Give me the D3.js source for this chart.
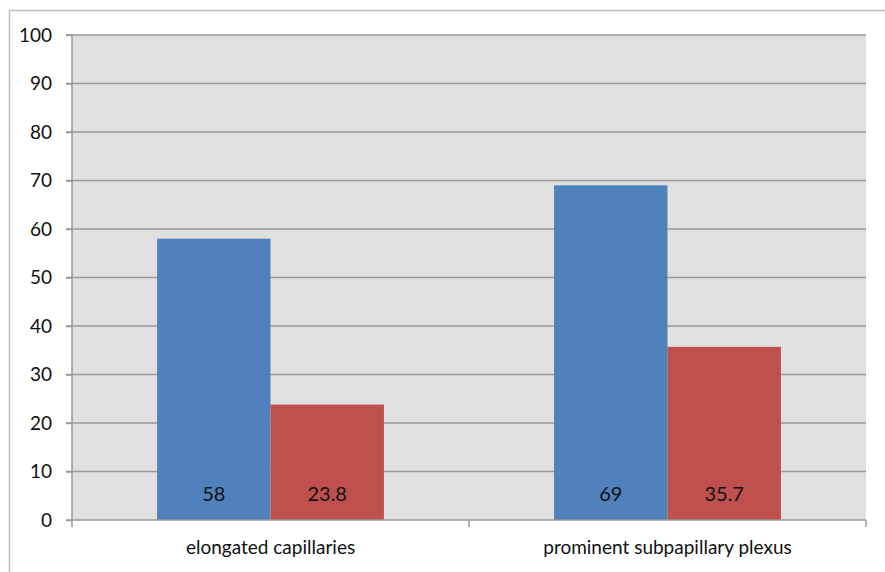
<!DOCTYPE html>
<html>
<head>
<meta charset="utf-8">
<script src="https://cdn.jsdelivr.net/npm/d3@7"></script>
<style>
  html, body { margin: 0; padding: 0; background: #fff; }
  svg { display: block; font-family: Lato, "Open Sans", sans-serif; }
</style>
</head>
<body>
<svg id="chart" width="885" height="572"></svg>
<script>
const categories = ["elongated capillaries", "prominent subpapillary plexus"];
const seriesNames = ["series1", "series2"];
const series1 = [58, 69];
const series2 = [23.8, 35.7];
const yTicks = [0, 10, 20, 30, 40, 50, 60, 70, 80, 90, 100];
const colors = ["#4f81bd", "#c0504d"];

const svg = d3.select("#chart");
const plotLeft = 72, plotRight = 866, plotTop = 35, plotBottom = 520;

// outer frame
svg.append("path")
  .attr("d", "M9.5,572V10.5H885")
  .attr("fill", "none")
  .attr("stroke", "#bdbdbd")
  .attr("stroke-width", 1.5);

const x = d3.scaleBand().domain(categories).range([plotLeft, plotRight]).paddingInner(0).paddingOuter(0);
const y = d3.scaleLinear().domain([0, 100]).range([plotBottom, plotTop]);
const xs = d3.scaleBand().domain(seriesNames).range([0, x.bandwidth()]).paddingInner(0).paddingOuter(0.75);

// plot background
svg.append("rect")
  .attr("x", plotLeft).attr("y", plotTop)
  .attr("width", plotRight - plotLeft).attr("height", plotBottom - plotTop)
  .attr("fill", "#e0e0e0");

// gridlines
svg.append("g").selectAll("line")
  .data(yTicks.filter(d => d > 0))
  .join("line")
  .attr("x1", plotLeft - 6).attr("x2", plotRight)
  .attr("y1", d => y(d)).attr("y2", d => y(d))
  .attr("stroke", "#999").attr("stroke-width", 1.5);

// y axis
const yAxis = d3.axisLeft(y).tickValues(yTicks).tickSize(6).tickPadding(14);
const gy = svg.append("g").attr("transform", `translate(${plotLeft},0)`).call(yAxis);
gy.select(".domain").attr("stroke", "#999").attr("stroke-width", 1.5).attr("d", `M-6,${plotTop}H0V${plotBottom}H-6`);
gy.selectAll(".tick line").attr("stroke", "#999").attr("stroke-width", 1.5);
gy.selectAll(".tick text").attr("fill", "#111").style("font-size", "19px").style("font-family", "Lato, sans-serif");

// bars
const data = categories.map((c, i) => ({ c, vals: [series1[i], series2[i]] }));
const groups = svg.append("g").selectAll("g")
  .data(data).join("g")
  .attr("transform", d => `translate(${x(d.c)},0)`);

groups.selectAll("rect")
  .data(d => d.vals.map((v, j) => ({ v, s: seriesNames[j], j })))
  .join("rect")
  .attr("x", d => xs(d.s))
  .attr("y", d => y(d.v))
  .attr("width", xs.bandwidth())
  .attr("height", d => plotBottom - y(d.v))
  .attr("fill", d => colors[d.j]);

groups.selectAll("text")
  .data(d => d.vals.map((v, j) => ({ v, s: seriesNames[j], j })))
  .join("text")
  .attr("x", d => xs(d.s) + xs.bandwidth() / 2)
  .attr("y", plotBottom - 19)
  .attr("text-anchor", "middle")
  .attr("fill", "#111")
  .style("font-size", "20px")
  .text(d => d.v);

// x axis
const xAxis = d3.axisBottom(x).tickSize(0).tickPadding(21);
const gx = svg.append("g").attr("transform", `translate(0,${plotBottom})`).call(xAxis);
gx.select(".domain").attr("stroke", "#999").attr("stroke-width", 1.5).attr("d", `M${plotLeft},0H${plotRight}`);
gx.selectAll(".tick text").attr("fill", "#111").style("font-size", "19px").style("font-family", "Lato, sans-serif");
svg.append("g").selectAll("line")
  .data([plotLeft, x(categories[1]), plotRight])
  .join("line")
  .attr("x1", d => d).attr("x2", d => d)
  .attr("y1", plotBottom).attr("y2", plotBottom + 7)
  .attr("stroke", "#999").attr("stroke-width", 1.5);
</script>
</body>
</html>
